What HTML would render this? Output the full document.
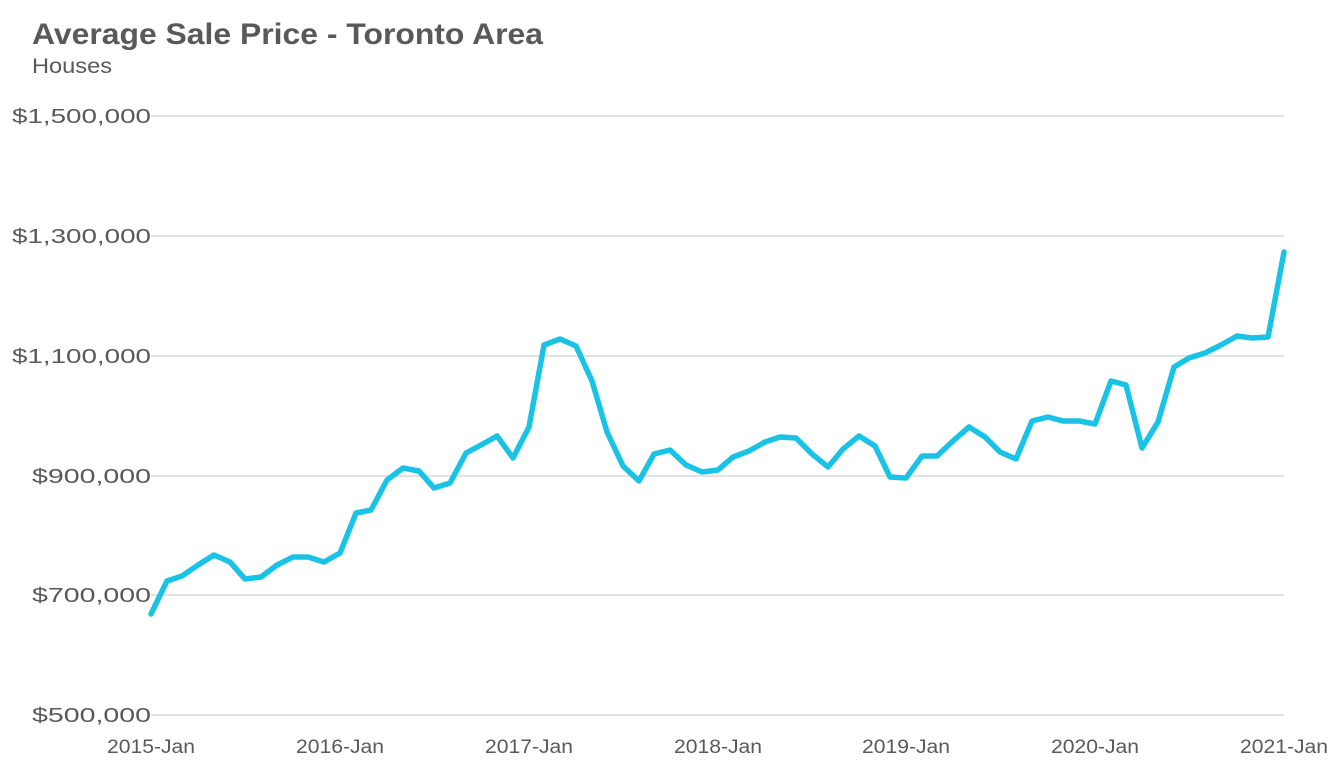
<!DOCTYPE html>
<html><head><meta charset="utf-8"><style>
html,body{margin:0;padding:0;background:#fff;}
svg{display:block;}
</style></head><body>
<svg width="1333" height="777" xmlns="http://www.w3.org/2000/svg" font-family="Liberation Sans, Arial, sans-serif">
<rect width="1333" height="777" fill="#fff"/>
<text x="32" y="44" font-size="30" font-weight="bold" fill="#595959" textLength="511" lengthAdjust="spacingAndGlyphs">Average Sale Price - Toronto Area</text>
<text x="32" y="73" font-size="21" fill="#595959" textLength="80" lengthAdjust="spacingAndGlyphs">Houses</text>
<g stroke="#d9d9d9" stroke-width="1.5">
<line x1="151" x2="1284" y1="116" y2="116"/>
<line x1="151" x2="1284" y1="236" y2="236"/>
<line x1="151" x2="1284" y1="356" y2="356"/>
<line x1="151" x2="1284" y1="476" y2="476"/>
<line x1="151" x2="1284" y1="595" y2="595"/>
<line x1="151" x2="1284" y1="715" y2="715"/>
</g>
<g font-size="20" fill="#595959">
<text x="12" y="123" textLength="139" lengthAdjust="spacingAndGlyphs">$1,500,000</text>
<text x="12" y="243" textLength="139" lengthAdjust="spacingAndGlyphs">$1,300,000</text>
<text x="12" y="363" textLength="139" lengthAdjust="spacingAndGlyphs">$1,100,000</text>
<text x="32" y="483" textLength="119" lengthAdjust="spacingAndGlyphs">$900,000</text>
<text x="32" y="602" textLength="119" lengthAdjust="spacingAndGlyphs">$700,000</text>
<text x="32" y="722" textLength="119" lengthAdjust="spacingAndGlyphs">$500,000</text>
</g>
<g font-size="19" fill="#595959">
<text x="107" y="753" textLength="88" lengthAdjust="spacingAndGlyphs">2015-Jan</text>
<text x="296" y="753" textLength="88" lengthAdjust="spacingAndGlyphs">2016-Jan</text>
<text x="485" y="753" textLength="88" lengthAdjust="spacingAndGlyphs">2017-Jan</text>
<text x="674" y="753" textLength="88" lengthAdjust="spacingAndGlyphs">2018-Jan</text>
<text x="862" y="753" textLength="88" lengthAdjust="spacingAndGlyphs">2019-Jan</text>
<text x="1051" y="753" textLength="88" lengthAdjust="spacingAndGlyphs">2020-Jan</text>
<text x="1240" y="753" textLength="88" lengthAdjust="spacingAndGlyphs">2021-Jan</text>
</g>
<polyline fill="none" stroke="#19C3E6" stroke-width="5.5" stroke-linejoin="round" stroke-linecap="round" points="151,614 167,581 182,576 198,565 214,555 230,562 245,579 261,577 277,565 293,557 308,557 324,562 340,553 356,513 371,510 387,480 403,468 419,471 434,488 450,483 466,453 481,445 497,436 513,458 529,427 544,345 560,339 576,346 592,381 607,432 623,466 639,481 654,454 670,450 686,465 702,472 718,470 733,457 749,451 765,442 780,437 796,438 812,454 828,467 843,449 859,436 875,446 890,477 906,478 922,456 937,456 953,441 969,427 985,437 1000,452 1016,459 1032,421 1048,417 1063,421 1079,421 1095,424 1111,381 1126,385 1142,448 1158,422 1174,367 1189,358 1205,353 1221,345 1237,336 1252,338 1268,337 1284,252"/>
</svg>
</body></html>
